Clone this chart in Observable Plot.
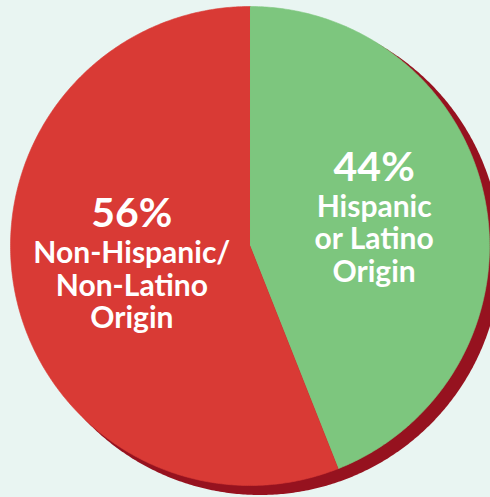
<!DOCTYPE html>
<html>
<head>
<meta charset="utf-8">
<script src="https://cdn.jsdelivr.net/npm/d3@7"></script>
<script src="https://cdn.jsdelivr.net/npm/@observablehq/plot@0.6"></script>
<style>
  html, body { margin: 0; padding: 0; background: #e9f5f2; }
  #chart svg { display: block; }
</style>
</head>
<body>
<div id="chart"></div>
<script>
// Data
const categories = ["Hispanic or Latino Origin", "Non-Hispanic/Non-Latino Origin"];
const values = [44, 56];
const percentLabels = ["44%", "56%"];
const nameLabels = ["Hispanic\nor Latino\nOrigin", "Non-Hispanic/\nNon-Latino\nOrigin"];
const colors = ["#7dc67e", "#d93a35"];

// Build slice polygons (unit radius, y up) from the pie layout
const pie = d3.pie().sort(null).value(d => d)(values);
const slicePoints = [];
pie.forEach((s, i) => {
  const steps = Math.max(2, Math.ceil((s.endAngle - s.startAngle) / (Math.PI / 360)));
  slicePoints.push({category: categories[i], x: 0, y: 0});
  for (let k = 0; k <= steps; k++) {
    const a = s.startAngle + (s.endAngle - s.startAngle) * k / steps;
    slicePoints.push({category: categories[i], x: Math.sin(a), y: Math.cos(a)});
  }
});

// Shadow disc (slightly larger, offset)
const shadowR = 241 / 239.5;
const shadowPoints = d3.range(0, 721).map(k => {
  const a = k / 720 * 2 * Math.PI;
  return {x: shadowR * Math.sin(a), y: shadowR * Math.cos(a)};
});

// Label anchors at slice centroids
const labelR = 0.515;
const labels = pie.map((s, i) => {
  const a = (s.startAngle + s.endAngle) / 2;
  return {x: labelR * Math.sin(a), y: labelR * Math.cos(a), pct: percentLabels[i], name: nameLabels[i]};
});

const chart = Plot.plot({
  width: 490,
  height: 497,
  marginLeft: 10,
  marginRight: 1,
  marginTop: 6,
  marginBottom: 12,
  x: {domain: [-1, 1], axis: null},
  y: {domain: [-1, 1], axis: null},
  color: {domain: categories, range: colors},
  style: {background: "#e9f5f2", overflow: "visible"},
  marks: [
    Plot.line(shadowPoints, {x: "x", y: "y", fill: "#96121f", stroke: "none", dx: 10, dy: 8}),
    Plot.line(slicePoints, {x: "x", y: "y", z: "category", fill: "category", stroke: "category", strokeWidth: 0.6}),
    Plot.text(labels, {x: "x", y: "y", text: "pct", lineAnchor: "bottom", dx: 3, dy: -42,
      fill: "white", fontSize: 41, fontWeight: "bold", fontFamily: "Lato"}),
    Plot.text(labels, {x: "x", y: "y", text: "name", lineAnchor: "bottom", dx: 3, dy: 59, lineHeight: 1.085,
      fill: "white", fontSize: 30, fontWeight: "bold", fontFamily: "Lato"})
  ]
});
document.getElementById("chart").appendChild(chart);
</script>
</body>
</html>
